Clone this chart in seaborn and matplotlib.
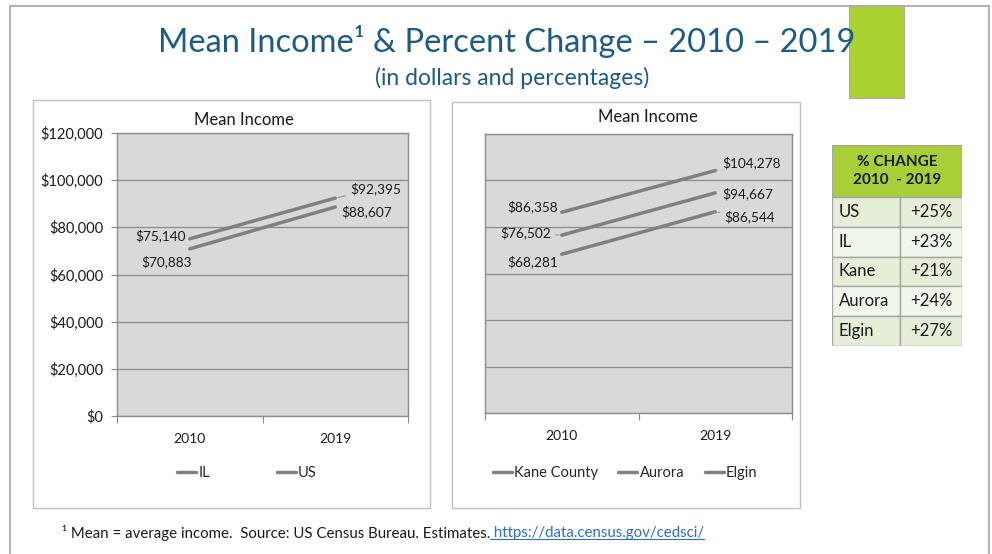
import matplotlib
matplotlib.use("Agg")
import matplotlib.pyplot as plt
from matplotlib.patches import Rectangle
from matplotlib.lines import Line2D
import pandas as pd
import seaborn as sns

# ---- data -------------------------------------------------------------
years = ["2010", "2019"]

state_areas = ["IL", "US"]
state_2010 = [75140, 70883]
state_2019 = [92395, 88607]

local_areas = ["Kane County", "Aurora", "Elgin"]
local_2010 = [86358, 76502, 68281]
local_2019 = [104278, 94667, 86544]

income_ticks = [0, 20000, 40000, 60000, 80000, 100000, 120000]

table_keys = ["US", "IL", "Kane County", "Aurora", "Elgin"]
table_names = ["US", "IL", "Kane", "Aurora", "Elgin"]

# ---- style ------------------------------------------------------------
sns.set_style("white")
plt.rcParams["font.family"] = ["Lato", "DejaVu Sans"]

W, H = 992, 554
fig = plt.figure(figsize=(W / 100, H / 100), dpi=100)
fig.patch.set_facecolor("white")

LINE = "#808080"
GRID = "#8c8c8c"
TEXT = "#1a1a1a"
BLUE = "#1d5b87"


def fx(px):
    return px / W


def fy(py):
    return 1 - py / H


def frame_rect(x0, y0, x1, y1, **kw):
    return Rectangle((fx(x0), fy(y1)), fx(x1) - fx(x0), fy(y0) - fy(y1),
                     transform=fig.transFigure, **kw)


# slide frame
for xs, ys in [((10, 10), (6, H)), ((10, 989), (6, 6)), ((989, 989), (6, H))]:
    fig.add_artist(Line2D([fx(x) for x in xs], [fy(y) for y in ys],
                          transform=fig.transFigure, color="#a6a6a6", lw=1.2))

# green accent block
fig.add_artist(frame_rect(850, 7, 905, 99, facecolor="#b5b5b5", edgecolor="none", zorder=1))
fig.add_artist(frame_rect(849, 6, 904, 98, facecolor="#acd232", edgecolor="#a8a8a8",
                          lw=0.8, zorder=2))

fig.text(fx(507), fy(42), "Mean Income¹ & Percent Change – 2010 – 2019",
         ha="center", va="center", fontsize=23.5, color=BLUE, zorder=5)
fig.text(fx(512), fy(78), "(in dollars and percentages)",
         ha="center", va="center", fontsize=16.5, color=BLUE, zorder=5)


def long_frame(areas, v0, v1):
    rows = []
    for a, s, e in zip(areas, v0, v1):
        rows.append({"area": a, "pos": 0, "income": s})
        rows.append({"area": a, "pos": 1, "income": e})
    return pd.DataFrame(rows)


def draw_panel(box, plot, areas, v0, v1, offsets, title_xy, legend_xy,
               col_space, show_y):
    fig.add_artist(frame_rect(*box, facecolor="white", edgecolor="#bfbfbf", lw=1, zorder=0))
    x0, y0, x1, y1 = plot
    ax = fig.add_axes([fx(x0), fy(y1), fx(x1) - fx(x0), fy(y0) - fy(y1)])
    df = long_frame(areas, v0, v1)
    sns.lineplot(data=df, x="pos", y="income", hue="area", hue_order=areas,
                 palette=[LINE] * len(areas), linewidth=2.5, ax=ax, legend=True)
    ax.set_facecolor("#d9d9d9")
    ax.set_xlim(-0.5, 1.5)
    ax.set_ylim(0, 120000)
    ax.set_xlabel("")
    ax.set_ylabel("")
    ax.set_yticks(income_ticks)
    ax.yaxis.grid(True, color=GRID, lw=0.9)
    ax.set_axisbelow(True)
    if show_y:
        ax.set_yticklabels([f"${v:,.0f}" for v in income_ticks])
        ax.tick_params(axis="y", length=4, width=0.8, color=GRID, pad=6,
                       labelsize=10.5, labelcolor=TEXT, direction="out", left=True)
    else:
        ax.set_yticklabels([])
        ax.tick_params(axis="y", length=0)
    ax.set_xticks([0, 1], labels=years)
    ax.set_xticks([-0.5, 0.5, 1.5], minor=True)
    ax.tick_params(axis="x", which="major", length=0, pad=12, labelsize=10, labelcolor=TEXT)
    ax.tick_params(axis="x", which="minor", length=5, width=0.8, color=GRID,
                   direction="out", bottom=True)
    for sp in ax.spines.values():
        sp.set_visible(True)
        sp.set_color(GRID)
        sp.set_linewidth(1)

    for i, a in enumerate(areas):
        for pos, v in ((0, v0[i]), (1, v1[i])):
            dx, dy, ha, leader = offsets[a][pos]
            kw = {}
            if leader:
                kw["arrowprops"] = dict(arrowstyle="-", color="#8c8c8c", lw=0.7,
                                        shrinkA=1, shrinkB=2)
            ax.annotate(f"${v:,}", xy=(pos, v), xytext=(dx, dy),
                        textcoords="offset pixels", ha=ha, va="center",
                        fontsize=9.8, color=TEXT, **kw)

    fig.text(fx(title_xy[0]), fy(title_xy[1]), "Mean Income", ha="center",
             va="center", fontsize=12, color=TEXT)
    sns.move_legend(ax, "center", bbox_to_anchor=(fx(legend_xy[0]), fy(legend_xy[1])),
                    bbox_transform=fig.transFigure, ncol=len(areas), frameon=False,
                    title=None, handlelength=1.3, handletextpad=0.15,
                    columnspacing=col_space, fontsize=10.5)
    return ax


state_offsets = {
    "IL": {0: (-4, 3, "right", False), 1: (15, 9, "left", True)},
    "US": {0: (2, -13, "right", False), 1: (6, -5, "left", False)},
}
local_offsets = {
    "Kane County": {0: (-4, 5, "right", False), 1: (7, 8, "left", True)},
    "Aurora": {0: (-11, 2, "right", True), 1: (7, -1, "left", False)},
    "Elgin": {0: (-4, -7, "right", False), 1: (9, -5, "left", True)},
}

draw_panel((33, 100, 430, 508), (117, 133, 408, 416), state_areas, state_2010,
           state_2019, state_offsets, (244, 120), (247, 473), 4.6, True)
draw_panel((452, 102, 800, 508), (485, 134, 792, 413), local_areas, local_2010,
           local_2019, local_offsets, (648, 117), (625, 473), 1.4, False)

# ---- percent change table ---------------------------------------------
values = dict(zip(state_areas + local_areas,
                  zip(state_2010 + local_2010, state_2019 + local_2019)))
pct = [f"+{round((values[k][1] / values[k][0] - 1) * 100)}%" for k in table_keys]

tx0, ty0, tx1, ty1 = 832, 145, 962, 346
tax = fig.add_axes([fx(tx0), fy(ty1), fx(tx1) - fx(tx0), fy(ty0) - fy(ty1)])
tax.set_xlim(0, tx1 - tx0)
tax.set_ylim(ty1 - ty0, 0)
tax.axis("off")
head_h = 52
row_h = (ty1 - ty0 - head_h) / len(table_names)
split = 68
edge = "#a6a6a6"
tax.add_patch(Rectangle((0, 0), tx1 - tx0, head_h, facecolor="#a9cf38",
                        edgecolor=edge, lw=1))
tax.text((tx1 - tx0) / 2, head_h / 2, "% CHANGE\n2010  - 2019", ha="center",
         va="center", fontsize=11, fontweight="bold", color=TEXT, linespacing=1.35)
for i, (name, p) in enumerate(zip(table_names, pct)):
    top = head_h + i * row_h
    fill = "#e5eed7" if i % 2 == 0 else "#f1f6eb"
    tax.add_patch(Rectangle((0, top), split, row_h, facecolor=fill, edgecolor=edge, lw=1))
    tax.add_patch(Rectangle((split, top), tx1 - tx0 - split, row_h, facecolor=fill,
                            edgecolor=edge, lw=1))
    tax.text(7, top + row_h / 2, name, ha="left", va="center", fontsize=12, color=TEXT)
    tax.text(split + (tx1 - tx0 - split) / 2, top + row_h / 2, p, ha="center",
             va="center", fontsize=12, color=TEXT)

# ---- footnote with source link ----------------------------------------
note = fig.text(fx(62), fy(533), "¹ Mean = average income.  Source: US Census Bureau. Estimates.",
                ha="left", va="center", fontsize=10.8, color=TEXT)
fig.canvas.draw()
bb = note.get_window_extent()
link = fig.text(bb.x1 / W, fy(533), " https://data.census.gov/cedsci/", ha="left",
                va="center", fontsize=10.8, color="#2a6fc9")
fig.canvas.draw()
lb = link.get_window_extent()
fig.add_artist(Line2D([lb.x0 / W, lb.x1 / W], [(lb.y0 + 1) / H] * 2,
                      transform=fig.transFigure, color="#2a6fc9", lw=0.8))

fig.savefig("out.png", dpi=100, facecolor="white")
